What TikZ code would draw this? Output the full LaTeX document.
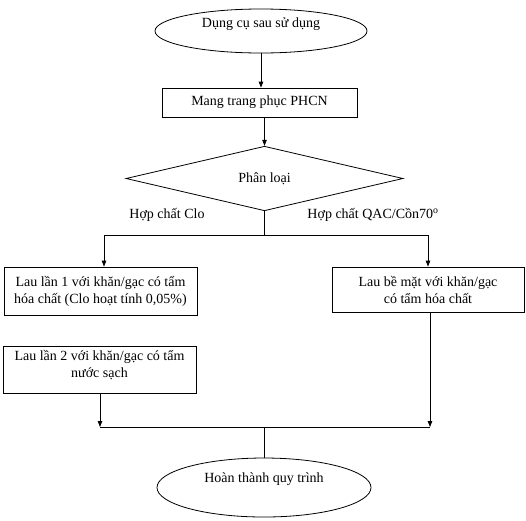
\documentclass[tikz,border=0pt]{standalone}
\usepackage{fontspec}
\setmainfont{Liberation Serif}
\usetikzlibrary{shapes.geometric,arrows.meta}
\begin{document}
\begin{tikzpicture}[x=1pt,y=1pt,
  every node/.style={font=\fontsize{14}{17}\selectfont},
  line/.style={line width=0.8pt,draw=black},
  arr/.style={line width=0.8pt,-{Triangle[length=6pt,width=4.5pt]}},
  boxnode/.style={draw,line width=0.8pt,rectangle,inner sep=0pt,align=center},
  ovalnode/.style={draw,line width=0.8pt,ellipse,inner sep=0pt},
  lbl/.style={inner sep=0pt}
]
\useasboundingbox (0,0) rectangle (526,-520);
\node[ovalnode,minimum width=212,minimum height=44,text height=9pt,text depth=17pt] (start) at (261,-31) {Dụng cụ sau sử dụng};
\node[boxnode,minimum width=195,minimum height=29] (wear) at (259.5,-102.5) {Mang trang phục PHCN};
\node[draw,line width=0.8pt,diamond,inner sep=0pt,minimum width=277,minimum height=55] (sort) at (264.5,-178.5) {Phân loại};
\node[boxnode,minimum width=193,minimum height=48] (b1) at (100.5,-291) {Lau lần 1 với khăn/gạc có tẩm\\hóa chất (Clo hoạt tính 0,05\%)};
\node[boxnode,minimum width=193,minimum height=47] (b2) at (99.5,-369.5) {};
\node[lbl,align=center,anchor=north] (b2t) at ([yshift=-5]b2.north) {Lau lần 2 với khăn/gạc có tẩm\\nước sạch};
\node[boxnode,minimum width=192,minimum height=45] (b3) at (428,-289.5) {Lau bề mặt với khăn/gạc\\có tẩm hóa chất};
\node[ovalnode,minimum width=214,minimum height=59,text height=9pt,text depth=19pt] (end) at (264,-487.5) {Hoàn thành quy trình};
\node[lbl] (l1) at (167,-215) {Hợp chất Clo};
\node[lbl] (l2) at (373,-215) {Hợp chất QAC/Cồn70\textsuperscript{o}};
\coordinate (s1) at (sort.south |- 0,-235);
\coordinate (sl) at (104,-235);
\coordinate (sr) at (428,-235);
\coordinate (ml) at (100,-427);
\coordinate (mr) at (430,-427);
\coordinate (mc) at (264,-427);
\draw[arr] (start.south) -- (start.south |- wear.north);
\draw[arr] (wear.south -| sort.north) -- (sort.north);
\draw[line] (sort.south) -- (s1);
\draw[line] (sl) -- (sr);
\draw[arr] (sl) -- (sl |- b1.north);
\draw[arr] (sr) -- (b3.north);
\draw[arr] (b2.south -| ml) -- (ml);
\draw[arr] (b3.south -| mr) -- (mr);
\draw[line] (ml) -- (mr);
\draw[line] (mc) -- (end.north);
\end{tikzpicture}
\end{document}
